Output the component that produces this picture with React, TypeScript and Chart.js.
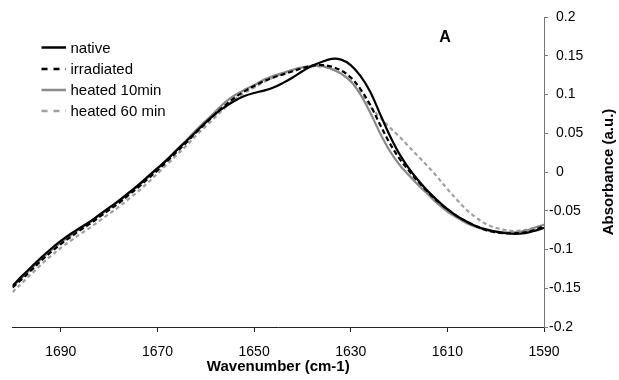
import React, { useEffect, useRef } from "react";
import { Chart, registerables } from "chart.js";

Chart.register(...registerables);

const WAVENUMBERS = [1700,1698,1696,1694,1692,1690,1688,1686,1684,1682,1680,1678,1676,1674,1672,1670,1668,1666,1664,1662,1660,1658,1656,1654,1652,1650,1648,1646,1644,1642,1640,1638,1636,1634,1632,1630,1628,1626,1624,1622,1620,1618,1616,1614,1612,1610,1608,1606,1604,1602,1600,1598,1596,1594,1592,1590];

const NATIVE = [-0.147,-0.134,-0.122,-0.110,-0.099,-0.089,-0.080,-0.072,-0.064,-0.055,-0.046,-0.037,-0.027,-0.017,-0.006,0.005,0.016,0.028,0.040,0.052,0.064,0.075,0.084,0.092,0.098,0.102,0.105,0.109,0.115,0.122,0.130,0.137,0.142,0.146,0.145,0.138,0.124,0.104,0.076,0.048,0.024,0.005,-0.011,-0.025,-0.037,-0.048,-0.057,-0.064,-0.070,-0.074,-0.077,-0.079,-0.080,-0.079,-0.076,-0.072];

const IRRADIATED = [-0.149,-0.138,-0.126,-0.114,-0.103,-0.093,-0.084,-0.075,-0.067,-0.058,-0.049,-0.040,-0.030,-0.020,-0.009,0.002,0.014,0.026,0.038,0.051,0.063,0.075,0.086,0.096,0.104,0.111,0.117,0.122,0.126,0.130,0.134,0.137,0.138,0.136,0.131,0.122,0.107,0.087,0.062,0.038,0.018,0.002,-0.013,-0.026,-0.038,-0.048,-0.057,-0.064,-0.070,-0.075,-0.078,-0.079,-0.079,-0.078,-0.075,-0.070];

const HEATED_10 = [-0.148,-0.136,-0.124,-0.112,-0.101,-0.091,-0.082,-0.073,-0.065,-0.056,-0.047,-0.038,-0.028,-0.018,-0.007,0.004,0.016,0.029,0.041,0.054,0.066,0.078,0.090,0.099,0.106,0.112,0.119,0.124,0.128,0.132,0.135,0.137,0.137,0.133,0.127,0.117,0.100,0.077,0.051,0.028,0.010,-0.004,-0.017,-0.029,-0.041,-0.051,-0.059,-0.066,-0.071,-0.075,-0.077,-0.078,-0.078,-0.076,-0.072,-0.068];

const HEATED_60 = [-0.155,-0.143,-0.131,-0.119,-0.108,-0.098,-0.089,-0.080,-0.072,-0.063,-0.054,-0.045,-0.035,-0.025,-0.014,-0.002,0.010,0.022,0.034,0.047,0.059,0.071,0.083,0.094,0.102,0.109,0.116,0.122,0.127,0.131,0.134,0.136,0.136,0.133,0.127,0.117,0.102,0.085,0.071,0.058,0.046,0.033,0.020,0.007,-0.007,-0.022,-0.036,-0.049,-0.059,-0.067,-0.072,-0.075,-0.076,-0.075,-0.072,-0.068];

const SERIES_NAMES = ["native", "irradiated", "heated 10min", "heated 60 min"];
const X_TICKS = [1690, 1670, 1650, 1630, 1610, 1590];
const X_TICK_LABELS = ["1690", "1670", "1650", "1630", "1610", "1590"];
const Y_TICKS = [0.2, 0.15, 0.1, 0.05, 0, -0.05, -0.1, -0.15, -0.2];
const Y_TICK_LABELS = ["0.2", "0.15", "0.1", "0.05", "0", "-0.05", "-0.1", "-0.15", "-0.2"];
const X_TITLE = "Wavenumber (cm-1)";
const Y_TITLE = "Absorbance (a.u.)";
const PANEL_LABEL = "A";

const FONT = "Arial, 'Liberation Sans', sans-serif";

const STYLES = [
  { color: "#000000", dash: [] as number[] },
  { color: "#000000", dash: [5, 3] },
  { color: "#8a8a8a", dash: [] as number[] },
  { color: "#a0a0a0", dash: [4, 3] },
];

const overlayPlugin = {
  id: "overlay",
  afterDraw(chart: any) {
    const ctx = chart.ctx;
    ctx.save();
    const rows = [47.5, 69, 90, 111];
    chart.data.datasets.forEach((ds: any, i: number) => {
      const y = rows[i];
      ctx.beginPath();
      ctx.strokeStyle = ds.borderColor;
      ctx.lineWidth = 2.5;
      ctx.setLineDash(i === 1 || i === 3 ? [6, 6] : []);
      ctx.moveTo(41.5, y);
      ctx.lineTo(66, y);
      ctx.stroke();
      ctx.setLineDash([]);
      ctx.fillStyle = "#000";
      ctx.font = `15px ${FONT}`;
      ctx.textAlign = "left";
      ctx.textBaseline = "middle";
      ctx.fillText(ds.label, 70.5, y + 1);
    });
    ctx.font = `bold 16px ${FONT}`;
    ctx.textAlign = "center";
    ctx.textBaseline = "middle";
    ctx.fillStyle = "#000";
    ctx.fillText(PANEL_LABEL, 445, 38);
    ctx.translate(609, (chart.chartArea.top + chart.chartArea.bottom) / 2);
    ctx.rotate(-Math.PI / 2);
    ctx.font = `bold 15px ${FONT}`;
    ctx.textAlign = "center";
    ctx.textBaseline = "middle";
    ctx.fillText(Y_TITLE, 0, 0);
    ctx.restore();
  },
};

export default function App() {
  const ref = useRef<HTMLCanvasElement>(null);
  useEffect(() => {
    if (!ref.current) return;
    const seriesData = [NATIVE, IRRADIATED, HEATED_10, HEATED_60];
    const chart = new Chart(ref.current, {
      type: "line",
      data: {
        datasets: seriesData.map((vals, i) => ({
          label: SERIES_NAMES[i],
          data: WAVENUMBERS.map((w, j) => ({ x: w, y: vals[j] })),
          borderColor: STYLES[i].color,
          borderDash: STYLES[i].dash,
          borderWidth: 2.2,
          pointRadius: 0,
          tension: 0.35,
          fill: false,
        })),
      },
      options: {
        animation: false,
        responsive: false,
        maintainAspectRatio: false,
        layout: { padding: { left: 12.5, top: 17, right: 0, bottom: 0 } },
        plugins: { legend: { display: false }, tooltip: { enabled: false } },
        scales: {
          x: {
            type: "linear",
            min: 1590,
            max: 1700,
            reverse: true,
            afterBuildTicks: (scale: any) => {
              scale.ticks = X_TICKS.map((v) => ({ value: v }));
            },
            afterFit: (scale: any) => {
              scale.height = 53;
            },
            ticks: {
              autoSkip: false,
              maxRotation: 0,
              padding: 12,
              color: "#000",
              font: { family: FONT, size: 14 },
              callback: (v: any) => {
                const idx = X_TICKS.indexOf(Number(v));
                return idx >= 0 ? X_TICK_LABELS[idx] : "";
              },
            },
            grid: { display: true, drawOnChartArea: false, drawTicks: true, tickLength: 5, tickColor: "#222", color: "#222" },
            border: { display: true, color: "#222", width: 1 },
            title: {
              display: true,
              text: X_TITLE,
              color: "#000",
              font: { family: FONT, size: 15, weight: "bold" },
              padding: { top: 0, bottom: 4 },
            },
          },
          y: {
            type: "linear",
            position: "right",
            min: -0.2,
            max: 0.2,
            afterBuildTicks: (scale: any) => {
              scale.ticks = Y_TICKS.map((v) => ({ value: v }));
            },
            afterFit: (scale: any) => {
              scale.width = 75;
            },
            ticks: {
              autoSkip: false,
              padding: 1,
              color: "#000",
              font: { family: FONT, size: 14 },
              callback: (v: any) => {
                let idx = -1;
                Y_TICKS.forEach((t, k) => {
                  if (Math.abs(t - Number(v)) < 1e-9) idx = k;
                });
                if (idx < 0) return "";
                const s = Y_TICK_LABELS[idx];
                return s.startsWith("-") ? s : "\u2002" + s;
              },
            },
            grid: { display: true, drawOnChartArea: false, drawTicks: true, tickLength: 4, tickColor: "#777", color: "#777" },
            border: { display: true, color: "#777", width: 1 },
            title: { display: false },
          },
        },
      },
      plugins: [overlayPlugin],
    });
    return () => chart.destroy();
  }, []);
  return (
    <div style={{ position: "absolute", left: 0, top: 0, width: 619, height: 380, background: "#fff" }}>
      <canvas ref={ref} width={619} height={380} style={{ width: 619, height: 380, display: "block" }} />
    </div>
  );
}
